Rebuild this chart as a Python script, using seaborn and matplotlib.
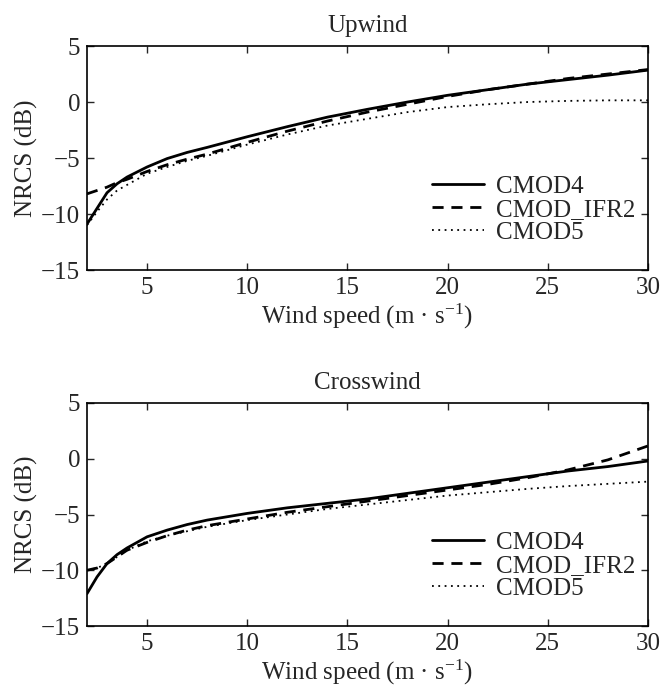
import seaborn as sns
import matplotlib.pyplot as plt
import pandas as pd

# wind speed samples (m/s)
speed = [2, 2.5, 3, 3.5, 4, 5, 6, 7, 8, 10, 12, 14, 16, 18, 20, 22, 24, 26, 28, 30]

# upwind NRCS (dB)
up_cmod4 = [-10.9, -9.5, -8.1, -7.3, -6.7, -5.8, -5.05, -4.5, -4.05, -3.1, -2.2, -1.35, -0.65, 0.0, 0.6, 1.1, 1.6, 2.0, 2.4, 2.85]
up_ifr2 = [-8.2, -7.9, -7.6, -7.2, -6.9, -6.2, -5.6, -5.1, -4.65, -3.6, -2.6, -1.7, -0.9, -0.2, 0.5, 1.1, 1.6, 2.1, 2.5, 2.9]
up_cmod5 = [-11.0, -9.8, -8.7, -7.9, -7.4, -6.4, -5.8, -5.25, -4.8, -3.8, -2.9, -2.1, -1.5, -0.9, -0.45, -0.2, 0.0, 0.1, 0.15, 0.15]

# crosswind NRCS (dB)
cr_cmod4 = [-12.1, -10.6, -9.4, -8.6, -8.0, -7.0, -6.4, -5.9, -5.5, -4.9, -4.4, -4.0, -3.6, -3.1, -2.6, -2.1, -1.6, -1.1, -0.7, -0.2]
cr_ifr2 = [-10.0, -9.8, -9.4, -8.8, -8.2, -7.5, -6.9, -6.4, -6.0, -5.4, -4.8, -4.3, -3.8, -3.3, -2.8, -2.3, -1.7, -1.0, -0.1, 1.15]
cr_cmod5 = [-10.0, -9.8, -9.4, -8.8, -8.2, -7.4, -6.9, -6.5, -6.1, -5.5, -5.0, -4.5, -4.1, -3.7, -3.3, -3.0, -2.7, -2.45, -2.25, -2.05]

models = ["CMOD4", "CMOD_IFR2", "CMOD5"]


def to_long(series):
    rows = []
    for name, vals in zip(models, series):
        for s, v in zip(speed, vals):
            rows.append({"speed": s, "nrcs": v, "model": name})
    return pd.DataFrame(rows)


up_df = to_long([up_cmod4, up_ifr2, up_cmod5])
cr_df = to_long([cr_cmod4, cr_ifr2, cr_cmod5])

sns.set_style("ticks")
plt.rcParams["font.family"] = ["Liberation Serif", "DejaVu Serif"]
plt.rcParams["mathtext.fontset"] = "custom"
plt.rcParams["mathtext.rm"] = "Liberation Serif"
plt.rcParams["font.size"] = 18

fig = plt.figure(figsize=(6.65, 6.89), dpi=100)
ax1 = fig.add_axes([0.1308, 0.6081, 0.8436, 0.3251])
ax2 = fig.add_axes([0.1308, 0.0914, 0.8436, 0.3237])

dashes = {"CMOD4": "", "CMOD_IFR2": (4, 2.8), "CMOD5": (1, 2.5)}
widths = {"CMOD4": 2.0, "CMOD_IFR2": 2.0, "CMOD5": 1.3}

for ax, df, title in [(ax1, up_df, "Upwind"), (ax2, cr_df, "Crosswind")]:
    sns.lineplot(data=df, x="speed", y="nrcs", style="model", dashes=dashes,
                 color="black", ax=ax, legend=False)
    for line, m in zip(ax.get_lines(), models):
        line.set_linewidth(widths[m])
        line.set_label(m)
    ax.set_xlim(2, 30)
    ax.set_ylim(-15, 5)
    ax.set_xticks([5, 10, 15, 20, 25, 30])
    ax.set_yticks([-15, -10, -5, 0, 5])
    ax.tick_params(direction="in", top=True, right=True, length=5, width=1, labelsize=18, pad=5)
    for sp in ax.spines.values():
        sp.set_linewidth(1.2)
        sp.set_color("black")
    ax.set_title(title, fontsize=18, pad=10)
    ax.set_xlabel("Wind speed (m · s$\\mathregular{^{-1}}$)", fontsize=18, labelpad=2)
    ax.set_ylabel("NRCS (dB)", fontsize=18, labelpad=2)
    ax.legend(loc="lower right", bbox_to_anchor=(0.977, 0.116), frameon=False, fontsize=18,
              handlelength=2.1, handletextpad=0.45, labelspacing=0.02,
              borderpad=0, borderaxespad=0)

fig.savefig("out.png", dpi=100, facecolor="white")
